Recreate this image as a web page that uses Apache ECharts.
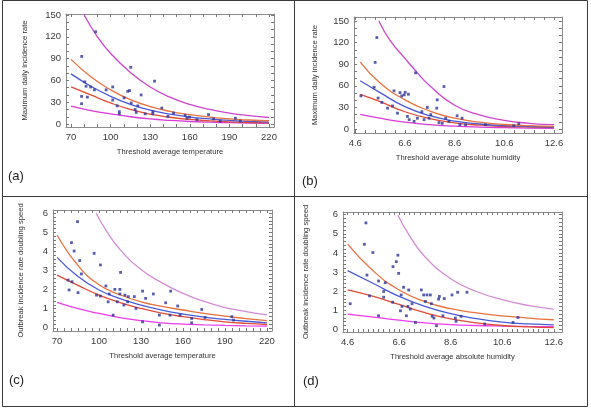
<!DOCTYPE html>
<html>
<head>
<meta charset="utf-8">
<script src="https://cdn.jsdelivr.net/npm/echarts@6/dist/echarts.min.js"></script>
<style>
  html, body { margin: 0; padding: 0; background: #fff; }
  #chart { width: 591px; height: 408px; }
</style>
</head>
<body>
<div id="chart"></div>
<script>
// ---- tick labels ----
const tempTicks = [70, 100, 130, 160, 190, 220]
const humTicks = [4.6, 6.6, 8.6, 10.6, 12.6]
const rateTicks = [0, 30, 60, 90, 120, 150]
const speedTicks = [0, 1, 2, 3, 4, 5, 6]

// ---- curve sample positions ----
const tempX = [70, 85, 100, 115, 130, 145, 160, 175, 190, 205, 220]
const humX = [4.8, 5.6, 6.6, 7.6, 8.6, 9.6, 10.6, 11.6, 12.6]
const humX2 = [4.6, 5.6, 6.6, 7.6, 8.6, 9.6, 10.6, 11.6, 12.6]

// ---- (a) max daily incidence rate vs temperature ----
const aPtsX = [88.7, 78.1, 115.3, 133.3, 80.4, 81.4, 84.9, 87.7, 96.6, 101.6, 78, 82.4, 78, 101.6, 110.2, 113, 114.3, 123.1, 105, 106.6, 106.6, 115.6, 118.6, 120.6, 119.4, 126.2, 132, 132, 138.8, 143.4, 147.7, 156.5, 157.8, 159.8, 165.4, 174.2, 178, 194.5, 198.3, 183]
const aPtsY = [127, 93, 78, 59, 58, 52, 51, 47, 47, 51, 38, 37, 28, 33, 36, 45, 46, 40, 25, 17, 14, 29, 20, 25, 16, 14, 14, 17, 22, 10.5, 15, 12, 8, 9.6, 6, 13, 7, 8, 4, 4]
const aUpPredX = [80, 90, 100, 115, 130, 145, 160, 175, 190, 205, 220]
const aUpPred = [150, 120, 97, 71, 51, 37, 27, 20, 15, 11.5, 9]
const aUpConf = [89, 65, 47, 33.5, 24, 17.5, 13, 9.5, 7, 5.5, 4.5]
const aFit = [69, 52, 38, 27, 19, 13.5, 9.5, 7, 5, 3.6, 2.5]
const aLoConf = [51, 40, 29, 20, 13.5, 9.3, 6.3, 4.4, 3, 2.1, 1.5]
const aLoPred = [24.5, 18.5, 14, 10, 7, 5, 3.5, 2.5, 1.8, 1.3, 1]

// ---- (b) max daily incidence rate vs absolute humidity ----
const bPtsX = [5.47, 5.40, 5.36, 4.83, 5.52, 5.67, 5.9, 6.1, 6.16, 6.4, 6.47, 6.57, 6.61, 6.74, 7.03, 8.17, 7.9, 7.88, 7.5, 6.7, 6.77, 6.97, 7.1, 7.28, 7.37, 7.57, 7.64, 7.97, 8.1, 8.24, 8.37, 8.7, 8.9, 8.81, 9.04, 9.84, 10.98, 11.18, 6.3]
const bPtsY = [127, 92.5, 58, 46, 43, 37, 29, 32, 53, 50.6, 46, 47.4, 51, 48.3, 78, 59, 40.5, 29, 30, 17.5, 13, 10.6, 15, 24, 13, 15, 20, 9, 8, 15, 10.6, 18.4, 15, 6, 6, 6, 4.6, 7.4, 22]
const bUpPredX = [5.55, 6.0, 6.6, 7.0, 7.6, 8.6, 9.6, 10.6, 11.6, 12.6]
const bUpPred = [150, 123, 98, 82, 60, 33, 19.5, 12, 8, 6]
const bUpConf = [93, 64, 40.5, 25, 15, 9.5, 6.3, 4.6, 3.7]
const bFit = [67, 50.5, 31, 18.5, 11, 7, 4.6, 3.5, 2.8]
const bLoConf = [48, 38, 24, 14.5, 8.6, 5.4, 3.8, 2.8, 2.3]
const bLoPred = [20.5, 15, 9.5, 6, 4, 2.7, 1.9, 1.3, 1]

// ---- (c) outbreak doubling speed vs temperature ----
const cPtsX = [84.6, 80.3, 82.2, 86.2, 87.4, 96.5, 101, 77.9, 80.7, 78.6, 85, 98.2, 101, 104.9, 111.3, 114.9, 115.4, 106.5, 107.3, 113, 114.9, 118.5, 120.9, 125.2, 117.8, 120.4, 126.4, 110.1, 131.1, 133.3, 138.8, 147.6, 151.2, 156.2, 157.9, 143.1, 143.1, 131.1, 166.2, 166.2, 173.4, 175.8, 194.9, 196.1, 150.7]
const cPtsY = [5.56, 4.46, 4.02, 3.52, 2.82, 3.9, 3.29, 2.5, 2.41, 1.98, 1.84, 1.71, 1.66, 2.19, 2.01, 2.01, 2.9, 1.36, 1.77, 1.36, 1.77, 1.71, 1.63, 1.63, 1.19, 1.36, 1.01, 0.66, 1.92, 1.54, 1.77, 1.31, 1.92, 1.14, 0.66, 0.66, 0.14, 0.31, 0.49, 0.26, 0.96, 0.54, 0.58, 0.4, 0.66]
const cUpPredX = [98, 105, 115, 130, 145, 160, 175, 190, 205, 220]
const cUpPred = [6.0, 5.1, 4.1, 3.05, 2.35, 1.8, 1.38, 1.06, 0.85, 0.68]
const cUpConf = [4.86, 3.26, 2.25, 1.73, 1.36, 1.12, 0.93, 0.75, 0.61, 0.48, 0.37]
const cFit = [3.69, 2.68, 1.98, 1.53, 1.19, 0.92, 0.72, 0.56, 0.44, 0.34, 0.26]
const cLoConf = [2.76, 2.22, 1.71, 1.32, 1.01, 0.77, 0.58, 0.43, 0.31, 0.23, 0.17]
const cLoPred = [1.33, 1.0, 0.75, 0.53, 0.37, 0.26, 0.19, 0.15, 0.12, 0.1, 0.09]

// ---- (d) outbreak doubling speed vs absolute humidity ----
const dPtsX = [5.31, 5.25, 5.58, 5.35, 4.7, 5.45, 5.8, 6.06, 6.0, 6.0, 5.8, 6.36, 6.49, 6.55, 6.58, 6.68, 6.77, 6.97, 6.35, 6.71, 6.65, 6.88, 6.94, 7.03, 7.1, 7.23, 7.46, 7.55, 7.68, 7.62, 7.81, 7.85, 8.13, 8.16, 8.35, 7.88, 7.95, 8.05, 8.3, 8.65, 8.87, 9.23, 8.78, 8.81, 9.0, 9.92, 11.02, 11.21]
const dPtsY = [5.57, 4.45, 4.02, 2.84, 1.34, 1.75, 2.53, 2.44, 1.98, 1.68, 0.71, 3.28, 3.54, 3.88, 2.93, 1.8, 2.2, 2.06, 1.42, 1.2, 0.97, 0.71, 1.2, 1.06, 1.34, 0.36, 2.06, 1.8, 1.8, 1.46, 1.8, 1.34, 1.58, 1.72, 1.61, 0.68, 0.59, 0.19, 0.71, 1.8, 1.94, 1.94, 0.59, 0.42, 0.68, 0.28, 0.36, 0.62]
const dUpPredX = [6.55, 7.0, 7.6, 8.6, 9.6, 10.6, 11.6, 12.6]
const dUpPred = [5.97, 4.9, 3.8, 2.65, 1.98, 1.55, 1.25, 1.06]
const dUpConf = [4.46, 3.05, 2.06, 1.45, 1.08, 0.86, 0.7, 0.59, 0.5]
const dFit = [3.07, 2.4, 1.72, 1.2, 0.82, 0.56, 0.38, 0.28, 0.23]
const dLoConf = [2.06, 1.72, 1.3, 0.87, 0.55, 0.34, 0.2, 0.13, 0.09]
const dLoPred = [0.8, 0.64, 0.48, 0.34, 0.25, 0.2, 0.17, 0.15, 0.14]

const FONT = 'Liberation Sans'
const frameColor = '#8c8c8c'

const steps = (from, to, step) => {
	const out = []
	for (let v = from; v <= to + 1e-9; v += step) out.push(+v.toFixed(3))
	return out
}
const zip = (xs, ys) => ys.map((y, i) => [xs[i], y])

const grids = []
const xAxes = []
const yAxes = []
const series = []

const addPanel = (p) => {
	const g = grids.length
	grids.push({ left: p.box[0], top: p.box[1], width: p.box[2], height: p.box[3], show: false })
	const base = { type: 'value', gridIndex: g, splitLine: { show: false }, axisLine: { show: true, onZero: false, lineStyle: { color: frameColor, width: 1 } } }
	const tick = (vals) => ({ show: true, inside: true, length: 3, customValues: vals, lineStyle: { color: '#777' } })
	xAxes.push({
		...base, position: 'bottom', min: p.xr[0], max: p.xr[1],
		axisTick: tick(p.xMinor),
		axisLabel: { customValues: p.xLabels, color: '#3a3a3a', fontSize: 9.5, fontFamily: FONT, margin: 5 },
		name: p.xName, nameLocation: 'middle', nameGap: p.xGap,
		nameTextStyle: { color: '#333', fontSize: 7.6, fontFamily: FONT },
	})
	xAxes.push({ ...base, position: 'top', min: p.xr[0], max: p.xr[1], axisTick: tick(p.xMinor), axisLabel: { show: false } })
	yAxes.push({
		...base, position: 'left', min: p.yr[0], max: p.yr[1],
		axisTick: tick(p.yMinor),
		axisLabel: { customValues: p.yLabels, color: '#3a3a3a', fontSize: 9.5, fontFamily: FONT, margin: 5 },
		name: p.yName, nameLocation: 'middle', nameGap: p.yGap,
		nameTextStyle: { color: '#333', fontSize: 7.6, fontFamily: FONT },
	})
	yAxes.push({ ...base, position: 'right', min: p.yr[0], max: p.yr[1], axisTick: tick(p.yMinor), axisLabel: { show: false } })

	const ax = { xAxisIndex: 2 * g, yAxisIndex: 2 * g }
	const line = (data, color) => ({
		...ax, type: 'line', data, smooth: 0.5, showSymbol: false, clip: true,
		lineStyle: { color, width: 1.3 }, silent: true,
	})
	series.push(line(p.loPred, p.loPredColor))
	series.push(line(p.loConf, '#df4b35'))
	series.push(line(p.fit, '#4a5ad6'))
	series.push(line(p.upConf, '#e8713f'))
	series.push(line(p.upPred, p.upPredColor))
	series.push({
		...ax, type: 'scatter', data: p.pts, symbol: 'rect', symbolSize: 2.8,
		itemStyle: { color: '#2e3499' }, z: 5,
	})
}

addPanel({
	box: [66, 14, 208, 113], xr: [66.2, 223.8], yr: [-4.1, 151.4],
	xLabels: tempTicks, yLabels: rateTicks, xMinor: steps(70, 220, 10), yMinor: steps(0, 150, 10),
	xName: 'Threshold average temperature', yName: 'Maximum daily incidence rate', xGap: 21, yGap: 37,
	pts: zip(aPtsX, aPtsY), upPred: zip(aUpPredX, aUpPred), upConf: zip(tempX, aUpConf),
	fit: zip(tempX, aFit), loConf: zip(tempX, aLoConf), loPred: zip(tempX, aLoPred),
	upPredColor: '#cc45cc', loPredColor: '#d93ad9',
})
addPanel({
	box: [354, 17, 208, 116], xr: [4.55, 12.92], yr: [-5.5, 155.5],
	xLabels: humTicks, yLabels: rateTicks, xMinor: steps(4.6, 12.6, 0.4), yMinor: steps(0, 150, 10),
	xName: 'Threshold average absolute humidity', yName: 'Maximum daily incidence rate', xGap: 21, yGap: 35,
	pts: zip(bPtsX, bPtsY), upPred: zip(bUpPredX, bUpPred), upConf: zip(humX, bUpConf),
	fit: zip(humX, bFit), loConf: zip(humX, bLoConf), loPred: zip(humX, bLoPred),
	upPredColor: '#cc45cc', loPredColor: '#d93ad9',
})
addPanel({
	box: [53, 210, 219, 121], xr: [67.1, 223.6], yr: [-0.17, 6.17],
	xLabels: tempTicks, yLabels: speedTicks, xMinor: steps(70, 220, 5), yMinor: steps(0, 6, 0.2),
	xName: 'Threshold average temperature', yName: 'Outbreak incidence rate doubling speed', xGap: 21, yGap: 28,
	pts: zip(cPtsX, cPtsY), upPred: zip(cUpPredX, cUpPred), upConf: zip(tempX, cUpConf),
	fit: zip(tempX, cFit), loConf: zip(tempX, cLoConf), loPred: zip(tempX, cLoPred),
	upPredColor: '#d38cd3', loPredColor: '#ec3cec',
})
addPanel({
	box: [343, 212, 219, 120], xr: [4.42, 12.92], yr: [-0.14, 6.14],
	xLabels: humTicks, yLabels: speedTicks, xMinor: steps(4.6, 12.6, 0.2), yMinor: steps(0, 6, 0.2),
	xName: 'Threshold average absolute humidity', yName: 'Outbreak incidence rate doubling speed', xGap: 21, yGap: 33,
	pts: zip(dPtsX, dPtsY), upPred: zip(dUpPredX, dUpPred), upConf: zip(humX2, dUpConf),
	fit: zip(humX2, dFit), loConf: zip(humX2, dLoConf), loPred: zip(humX2, dLoPred),
	upPredColor: '#d38cd3', loPredColor: '#ec3cec',
})

const panelLabel = (text, x, y) => ({
	type: 'text', left: x, top: y,
	style: { text, fill: '#222', font: '13px ' + FONT },
})
const rule = (x1, y1, x2, y2) => ({
	type: 'line', shape: { x1, y1, x2, y2 }, style: { stroke: '#3a3a3a', lineWidth: 1 },
})

const chart = echarts.init(document.getElementById('chart'), null, { renderer: 'canvas' })
chart.setOption({
	animation: false,
	backgroundColor: '#fff',
	grid: grids,
	xAxis: xAxes,
	yAxis: yAxes,
	series,
	graphic: [
		{ type: 'rect', shape: { x: 2.5, y: 0.5, width: 585, height: 406 }, style: { fill: 'none', stroke: '#3a3a3a', lineWidth: 1 } },
		rule(2.5, 196.5, 587.5, 196.5),
		rule(294.5, 0.5, 294.5, 406.5),
		panelLabel('(a)', 8, 170),
		panelLabel('(b)', 302, 175),
		panelLabel('(c)', 9, 374),
		panelLabel('(d)', 303, 375),
	],
})
</script>
</body>
</html>
